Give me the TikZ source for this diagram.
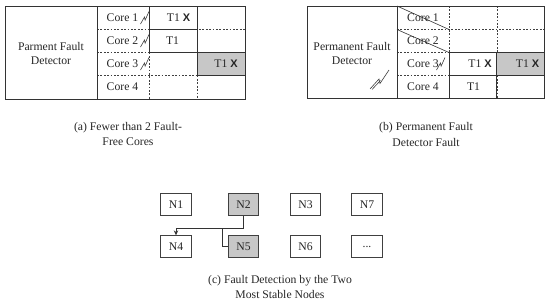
\documentclass[tikz,border=0pt]{standalone}
\usepackage{fontspec}
\setmainfont{Liberation Serif}
\setsansfont{Liberation Sans}
\usetikzlibrary{arrows.meta}
\tikzset{
  solidline/.style={draw=black!80, line width=0.8pt},
  dashline/.style={draw=black!75, line width=0.6pt, dash pattern=on 1.8pt off 1.6pt},
  txt/.style={font=\fontsize{11.7}{14}\selectfont, text=black!85, inner sep=0pt},
  captxt/.style={font=\fontsize{11.7}{15.5}\selectfont, text=black!85, align=center, inner sep=0pt},
  cellfill/.style={fill=black!22},
  nodebox/.style={draw=black!75, line width=0.8pt, minimum width=30.5pt, minimum height=21.5pt, inner sep=0pt, font=\fontsize{11.7}{14}\selectfont, text=black!85},
  graybox/.style={nodebox, fill=black!22},
  bolt/.style={draw=black!75, line width=0.6pt},
  conn/.style={draw=black!80, line width=0.8pt},
}
\newcommand{\xmark}{{\sffamily\bfseries\fontsize{11}{13}\selectfont X}}
\newcommand{\minibolt}[2]{\draw[bolt] (#1,#2+6) -- (#1+4,#2-1) -- (#1+4.6,#2+2.2) -- (#1+8.5,#2-6.5);}
\begin{document}
\begin{tikzpicture}[x=1pt,y=-1pt]
\useasboundingbox (0,0) rectangle (550,308);
% ---------------- panel (a) ----------------
% gray cell
\fill[cellfill] (197,52.5) rectangle (245,75.5);
% dashed grid
\draw[dashline] (97,29.5) -- (245,29.5);
\draw[dashline] (97,52.5) -- (149,52.5);
\draw[dashline] (97,75.5) -- (245,75.5);
\draw[dashline] (149,52.5) -- (149,99);
\draw[dashline] (197,75.5) -- (197,99);
% solid boxes
\draw[solidline] (149,6) rectangle (197,29.5);
\draw[solidline] (149,29.5) rectangle (197,52.5);
\draw[solidline] (197,52.5) rectangle (245,75.5);
% outer frame
\draw[solidline] (5.5,6) rectangle (245,99);
\draw[solidline] (97,6) -- (97,99);
% texts
\node[txt, align=center] (pfd) at (51,53.7) {Parment Fault\\Detector};
\node[txt] (ac1) at (122.5,18) {Core 1};
\node[txt] (ac2) at (122.5,41) {Core 2};
\node[txt] (ac3) at (122.5,64) {Core 3};
\node[txt] (ac4) at (122.5,87) {Core 4};
\minibolt{140.5}{18}
\minibolt{140.5}{41}
\minibolt{140.5}{64}
\node[txt] (at1) at (178.5,18) {T1 \xmark};
\node[txt] (at2) at (172.5,41) {T1};
\node[txt] (at3) at (226,64) {T1 \xmark};
\node[captxt] (capa) at (128,134) {(a) Fewer than 2 Fault-\\Free Cores};
% ---------------- panel (b) ----------------
\fill[cellfill] (496,52.5) rectangle (544,75.5);
\draw[dashline] (397,29.5) -- (544,29.5);
\draw[dashline] (397,52.5) -- (449,52.5);
\draw[dashline] (397,75.5) -- (449,75.5);
\draw[dashline] (496,75.5) -- (544,75.5);
\draw[dashline] (449,6) -- (449,52.5);
\draw[dashline] (497.5,6) -- (497.5,52.5);
\draw[dashline] (497.5,75.5) -- (497.5,98.5);
\draw[solidline] (449,52.5) rectangle (496,75.5);
\draw[solidline] (449,75.5) rectangle (496,98.5);
\draw[solidline] (496,52.5) rectangle (544,75.5);
\draw[solidline] (307,6) rectangle (544,98.5);
\draw[solidline] (397,6) -- (397,98.5);
% strike lines
\draw[solidline, line width=0.6pt] (397,6) -- (449,29.5);
\draw[solidline, line width=0.6pt] (397,29.5) -- (449,52.5);
\node[txt, align=center] (pfdb) at (352,53.7) {Permanent Fault\\Detector};
\node[txt] (bc1) at (423,18) {Core 1};
\node[txt] (bc2) at (423,41) {Core 2};
\node[txt] (bc3) at (423,64) {Core 3};
\node[txt] (bc4) at (423,87) {Core 4};
\minibolt{436.5}{64}
\draw[bolt] (370,89) -- (379,79) -- (380,83.5) -- (389,70);
\draw[bolt] (372,89.5) -- (380.5,80.5);
\node[txt] (bt3) at (480,64) {T1 \xmark};
\node[txt] (bt4) at (473.5,87) {T1};
\node[txt] (bt5) at (527.5,64) {T1 \xmark};
\node[captxt] (capb) at (426,134.5) {(b) Permanent Fault\\Detector Fault};
% ---------------- panel (c) ----------------
\node[nodebox] (N1) at (176,204.5) {N1};
\node[graybox] (N2) at (243.5,204.5) {N2};
\node[nodebox] (N3) at (305.5,204.5) {N3};
\node[nodebox] (N7) at (367,204.5) {N7};
\node[nodebox] (N4) at (176,246.5) {N4};
\node[graybox] (N5) at (243.5,246.5) {N5};
\node[nodebox] (N6) at (305.5,246.5) {N6};
\node[nodebox] (Nd) at (367,246.5) {...};
\coordinate (bend) at (176,228.3);
\coordinate (join) at (222,228.3);
\draw[conn, -{Stealth[length=5pt,width=4.5pt]}] (N2.south) |- (bend) -- (N4.north);
\draw[conn] (N5.west) -| (join);
\node[captxt] (capc) at (280,287) {(c) Fault Detection by the Two\\Most Stable Nodes};
\end{tikzpicture}
\end{document}
